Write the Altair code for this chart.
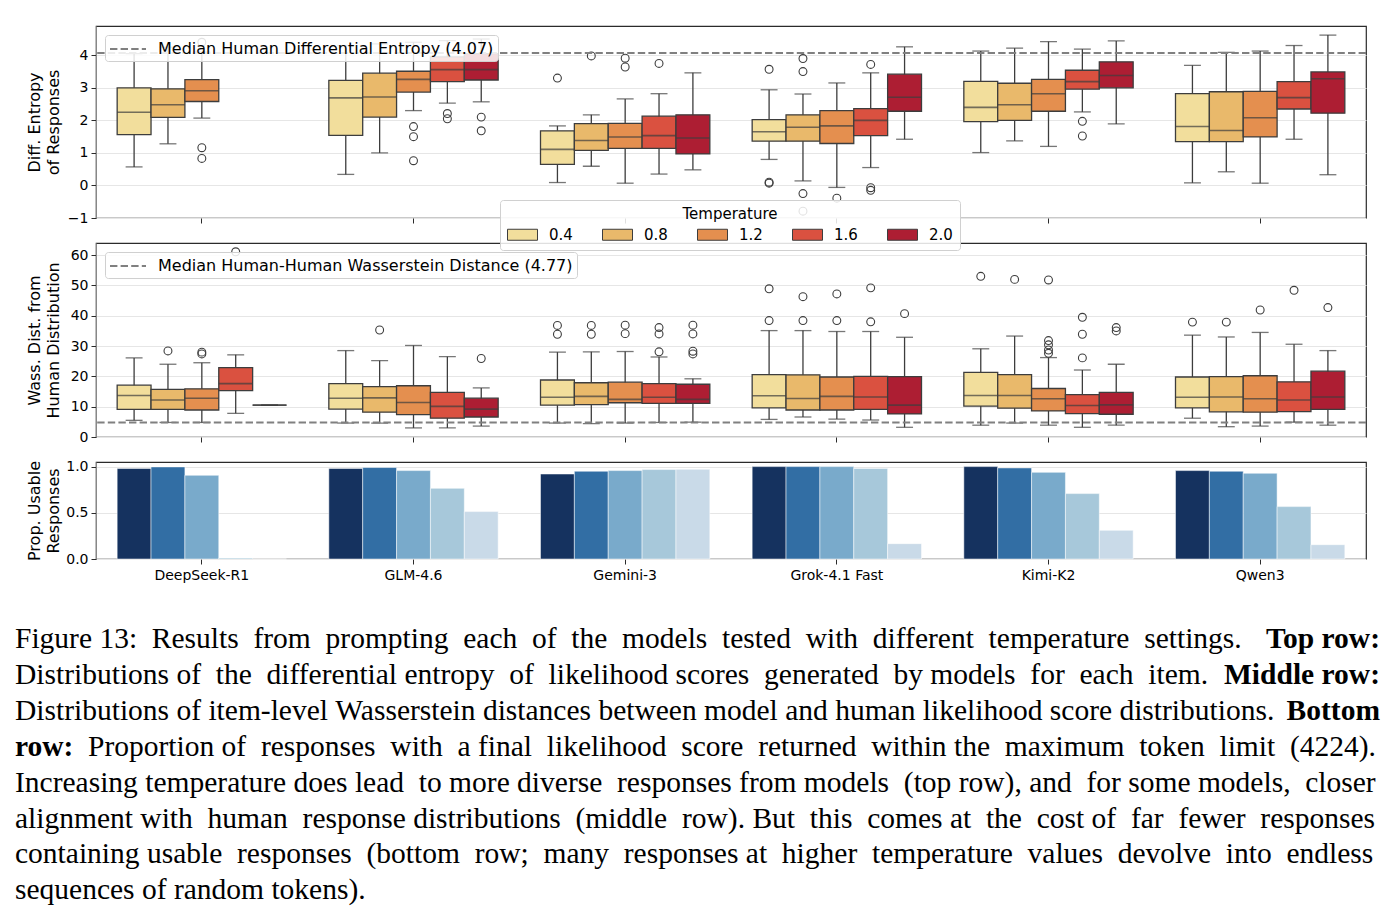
import altair as alt
import pandas as pd

models = ["DeepSeek-R1", "GLM-4.6", "Gemini-3", "Grok-4.1 Fast", "Kimi-K2", "Qwen3"]
temps = ["0.4", "0.8", "1.2", "1.6", "2.0"]

TEMP_COLORS = ["#f2de9c", "#e9b96b", "#e48f4f", "#da5140", "#ad1e33"]
BLUES = ["#15325f", "#326ea4", "#79aacb", "#a7c8da", "#c9dae8"]
EDGE = "#3d3d3d"

# ---------------- Top row: differential entropy (box stats per temperature) -------------
ent_lo = {
    "DeepSeek-R1": [0.57, 1.28, 2.07, None, None],
    "GLM-4.6": [0.34, 1.00, 2.30, 2.53, 2.57],
    "Gemini-3": [0.09, 0.59, 0.07, 0.35, 0.48],
    "Grok-4.1 Fast": [0.80, 0.14, -0.06, 0.55, 1.42],
    "Kimi-K2": [1.01, 1.37, 1.20, 2.26, 1.89],
    "Qwen3": [0.08, 0.42, 0.07, 1.42, 0.33],
}
ent_q1 = {
    "DeepSeek-R1": [1.56, 2.09, 2.58, None, None],
    "GLM-4.6": [1.54, 2.10, 2.87, 3.19, 3.24],
    "Gemini-3": [0.65, 1.08, 1.14, 1.14, 0.97],
    "Grok-4.1 Fast": [1.36, 1.36, 1.29, 1.53, 2.28],
    "Kimi-K2": [1.96, 2.00, 2.28, 2.96, 3.00],
    "Qwen3": [1.35, 1.35, 1.49, 2.35, 2.22],
}
ent_med = {
    "DeepSeek-R1": [2.25, 2.48, 2.91, None, None],
    "GLM-4.6": [2.69, 2.72, 3.26, 3.56, 3.56],
    "Gemini-3": [1.11, 1.38, 1.49, 1.53, 1.46],
    "Grok-4.1 Fast": [1.65, 1.79, 1.83, 2.00, 2.71],
    "Kimi-K2": [2.40, 2.48, 2.82, 3.19, 3.38],
    "Qwen3": [1.81, 1.69, 2.08, 2.70, 3.28],
}
ent_q3 = {
    "DeepSeek-R1": [3.00, 2.97, 3.25, None, None],
    "GLM-4.6": [3.23, 3.45, 3.51, 3.95, 4.05],
    "Gemini-3": [1.68, 1.90, 1.91, 2.13, 2.17],
    "Grok-4.1 Fast": [2.02, 2.17, 2.30, 2.36, 3.42],
    "Kimi-K2": [3.20, 3.14, 3.26, 3.54, 3.80],
    "Qwen3": [2.82, 2.88, 2.89, 3.19, 3.49],
}
ent_hi = {
    "DeepSeek-R1": [4.05, 4.25, 4.10, None, None],
    "GLM-4.6": [4.30, 4.35, 4.40, 4.45, 4.50],
    "Gemini-3": [1.83, 2.17, 2.66, 2.82, 3.46],
    "Grok-4.1 Fast": [2.94, 2.81, 3.15, 3.46, 4.26],
    "Kimi-K2": [4.13, 4.22, 4.42, 4.19, 4.44],
    "Qwen3": [3.69, 4.09, 4.13, 4.30, 4.62],
}
ent_out = {
    "DeepSeek-R1": {"1.2": [4.40, 1.16, 0.83]},
    "GLM-4.6": {"1.2": [1.81, 1.50, 0.76], "1.6": [2.21, 2.05], "2.0": [2.10, 1.68]},
    "Gemini-3": {"0.4": [3.30], "0.8": [3.98], "1.2": [3.91, 3.64], "1.6": [3.75]},
    "Grok-4.1 Fast": {"0.4": [3.57, 0.10, 0.07], "0.8": [3.90, 3.50, -0.25, -0.79],
                      "1.2": [-0.39], "1.6": [3.72, -0.07, -0.15]},
    "Kimi-K2": {"1.6": [1.97, 1.52]},
    "Qwen3": {},
}

# ---------------- Middle row: Wasserstein distance -------------
was_lo = {
    "DeepSeek-R1": [5.5, 4.8, 4.8, 7.8, 10.5],
    "GLM-4.6": [4.6, 4.6, 3.0, 3.0, 3.6],
    "Gemini-3": [4.6, 4.4, 4.6, 4.8, 4.9],
    "Grok-4.1 Fast": [5.8, 6.6, 5.9, 5.6, 3.2],
    "Kimi-K2": [3.9, 4.6, 3.9, 3.2, 3.9],
    "Qwen3": [6.2, 3.4, 3.6, 4.9, 3.9],
}
was_q1 = {
    "DeepSeek-R1": [9.1, 9.1, 8.9, 15.3, 10.5],
    "GLM-4.6": [9.2, 8.2, 7.4, 6.2, 6.6],
    "Gemini-3": [10.5, 10.7, 11.3, 11.1, 11.1],
    "Grok-4.1 Fast": [9.6, 8.9, 8.9, 9.1, 7.6],
    "Kimi-K2": [10.2, 9.5, 8.6, 7.7, 7.5],
    "Qwen3": [9.6, 8.3, 8.2, 8.4, 9.1],
}
was_med = {
    "DeepSeek-R1": [13.7, 12.2, 12.8, 17.6, 10.5],
    "GLM-4.6": [12.8, 12.9, 11.4, 10.1, 9.2],
    "Gemini-3": [13.1, 13.4, 12.4, 13.1, 12.4],
    "Grok-4.1 Fast": [13.6, 12.7, 13.4, 13.2, 10.5],
    "Kimi-K2": [13.7, 13.7, 12.6, 10.4, 10.6],
    "Qwen3": [13.1, 13.2, 12.6, 12.2, 13.2],
}
was_q3 = {
    "DeepSeek-R1": [17.1, 15.7, 15.9, 22.9, 10.5],
    "GLM-4.6": [17.6, 16.6, 16.9, 14.7, 12.8],
    "Gemini-3": [18.8, 17.9, 18.1, 17.6, 17.4],
    "Grok-4.1 Fast": [20.6, 20.5, 19.8, 20.0, 19.9],
    "Kimi-K2": [21.3, 20.6, 16.0, 14.0, 14.7],
    "Qwen3": [19.8, 19.9, 20.2, 18.2, 21.7],
}
was_hi = {
    "DeepSeek-R1": [26.1, 24.0, 24.5, 27.1, 10.5],
    "GLM-4.6": [28.5, 25.2, 30.2, 26.5, 16.2],
    "Gemini-3": [28.0, 28.1, 28.2, 26.4, 19.2],
    "Grok-4.1 Fast": [35.1, 35.1, 34.8, 34.8, 32.9],
    "Kimi-K2": [29.1, 33.3, 26.2, 22.1, 24.0],
    "Qwen3": [33.6, 33.0, 34.5, 30.6, 28.5],
}
was_out = {
    "DeepSeek-R1": {"0.8": [28.4], "1.2": [28.0, 27.4], "1.6": [61.1]},
    "GLM-4.6": {"0.8": [35.3], "2.0": [25.9]},
    "Gemini-3": {"0.4": [36.8, 33.9], "0.8": [36.8, 33.9], "1.2": [36.9, 34.1],
                 "1.6": [36.1, 34.0, 28.1], "2.0": [36.9, 34.0, 28.3, 27.4]},
    "Grok-4.1 Fast": {"0.4": [38.4, 48.9], "0.8": [38.4, 46.3], "1.2": [38.4, 47.2],
                      "1.6": [38.0, 49.2], "2.0": [40.7]},
    "Kimi-K2": {"0.4": [53.0], "0.8": [52.0], "1.2": [51.8, 31.8, 30.4, 28.7, 27.6],
                "1.6": [39.5, 33.9, 26.1], "2.0": [36.1, 35.0]},
    "Qwen3": {"0.4": [37.9], "0.8": [37.9], "1.2": [41.9], "1.6": [48.4], "2.0": [42.7]},
}

# ---------------- Bottom row: proportion of usable responses -------------
prop_usable = {
    "DeepSeek-R1": [0.98, 0.997, 0.906, 0.01, 0.0],
    "GLM-4.6": [0.98, 0.99, 0.957, 0.765, 0.513],
    "Gemini-3": [0.92, 0.95, 0.957, 0.968, 0.971],
    "Grok-4.1 Fast": [1.0, 1.0, 1.0, 0.98, 0.166],
    "Kimi-K2": [1.0, 0.986, 0.938, 0.708, 0.31],
    "Qwen3": [0.957, 0.95, 0.928, 0.567, 0.155],
}

human_entropy = 4.07
human_wass = 4.77

caption_main = [
    "Figure 13: Results from prompting each of the models tested with different temperature settings.",
    "Distributions of the differential entropy of likelihood scores generated by models for each item.",
    "Distributions of item-level Wasserstein distances between model and human likelihood score distributions.",
    "Proportion of responses with a final likelihood score returned within the maximum token limit (4224).",
    "Increasing temperature does lead to more diverse responses from models (top row), and for some models, closer",
    "alignment with human response distributions (middle row). But this comes at the cost of far fewer responses",
    "containing usable responses (bottom row; many responses at higher temperature values devolve into endless",
    "sequences of random tokens).",
]
caption_bold_end = ["Top row:", "Middle row:", "Bottom"]
caption_bold_start = "row:"

W = 1270
FONT = "DejaVu Sans"

xscale = alt.Scale(domain=models, paddingInner=0.2, paddingOuter=0.1)
xo_scale = alt.Scale(domain=temps, paddingInner=0, paddingOuter=0)
BOX_W = W / 6 * 0.8 / 5
LEG_FILL = "rgba(255,255,255,0.85)"
LEG_STROKE = "#d0d0d0"


def stats_frame(lo, q1, med, q3, hi):
    rows = []
    for m in models:
        for i, t in enumerate(temps):
            if q1[m][i] is None:
                continue
            rows.append(dict(model=m, temp=t, lo=lo[m][i], q1=q1[m][i],
                             med=med[m][i], q3=q3[m][i], hi=hi[m][i]))
    return pd.DataFrame(rows)


def outlier_frame(out):
    rows = []
    for m, d in out.items():
        for t, vals in d.items():
            for v in vals:
                rows.append(dict(model=m, temp=t, v=v))
    return pd.DataFrame(rows)


def box_panel(stats, outs, domain, ticks, title, height, hval, hlabel, color_legend):
    xaxis = alt.Axis(labels=False, title=None, grid=False, domain=False, ticks=True, tickSize=5)
    X = alt.X("model:N", sort=models, scale=xscale, axis=xaxis)
    XO = alt.XOffset("temp:N", sort=temps, scale=xo_scale)
    yscale = alt.Scale(domain=domain, nice=False, zero=False)
    yaxis = alt.Axis(values=ticks, title=title, format="d", grid=True, titleX=-54,
                     titleLineHeight=19, tickSize=5, labelPadding=3)

    def Y(f):
        return alt.Y(f"{f}:Q", scale=yscale, axis=yaxis)

    base = alt.Chart(stats)
    whisk = base.mark_rule(color=EDGE, strokeWidth=1.3).encode(
        x=X, xOffset=XO, y=Y("lo"), y2="hi:Q")
    cap_lo = base.mark_tick(color=EDGE, size=BOX_W / 2, thickness=1.3, orient="horizontal").encode(
        x=X, xOffset=XO, y=Y("lo"))
    cap_hi = base.mark_tick(color=EDGE, size=BOX_W / 2, thickness=1.3, orient="horizontal").encode(
        x=X, xOffset=XO, y=Y("hi"))
    if color_legend:
        leg = alt.Legend(
            orient="none", legendX=404, legendY=-43, direction="horizontal", columns=5,
            title="Temperature", titleAnchor="middle", titleOrient="top",
            titleFontSize=15, titleFontWeight="normal", titleFont=FONT, titleColor="black",
            labelFontSize=15, labelFont=FONT, labelColor="black", labelOffset=19,
            symbolType="M-3,-1.1H3V1.1H-3Z", symbolSize=100, symbolOffset=8,
            symbolStrokeColor=EDGE, symbolStrokeWidth=1, columnPadding=27,
            padding=7, titlePadding=5, fillColor=LEG_FILL,
            strokeColor=LEG_STROKE, cornerRadius=3, zindex=2)
    else:
        leg = None
    box = base.mark_bar(stroke=EDGE, strokeWidth=1.3).encode(
        x=X, xOffset=XO, y=Y("q1"), y2="q3:Q",
        color=alt.Color("temp:N", sort=temps, scale=alt.Scale(domain=temps, range=TEMP_COLORS),
                        legend=leg))
    med = base.mark_tick(color=EDGE, size=BOX_W, thickness=1.6, orient="horizontal").encode(
        x=X, xOffset=XO, y=Y("med"))
    pts = alt.Chart(outs).mark_point(shape="circle", filled=False, size=62, color=EDGE,
                                     strokeWidth=1.1, opacity=1).encode(
        x=X, xOffset=XO, y=Y("v"))
    hdf = pd.DataFrame({"label": [hlabel], "v": [hval]})
    hline = alt.Chart(hdf).mark_rule(color="#808080", strokeWidth=2).encode(
        y=Y("v"),
        strokeDash=alt.StrokeDash(
            "label:N", scale=alt.Scale(domain=[hlabel], range=[[7.4, 3.2]]),
            legend=alt.Legend(title=None, orient="top-left", offset=9,
                              symbolType="M-2,0H2", symbolSize=324, symbolOffset=9,
                              symbolStrokeColor="#808080", symbolStrokeWidth=2,
                              labelFontSize=16, labelFont=FONT, labelColor="black",
                              labelLimit=0, labelOffset=20, padding=4,
                              fillColor=LEG_FILL, strokeColor=LEG_STROKE,
                              cornerRadius=3, zindex=2)))
    return alt.layer(whisk, box, med, cap_lo, cap_hi, pts, hline).resolve_scale(
        color="independent", strokeDash="independent").properties(width=W, height=height)


top = box_panel(stats_frame(ent_lo, ent_q1, ent_med, ent_q3, ent_hi), outlier_frame(ent_out),
                [-1, 4.9], [-1, 0, 1, 2, 3, 4], ["Diff. Entropy", "of Responses"], 192,
                human_entropy, "Median Human Differential Entropy (4.07)", False)
mid = box_panel(stats_frame(was_lo, was_q1, was_med, was_q3, was_hi), outlier_frame(was_out),
                [0, 64], [0, 10, 20, 30, 40, 50, 60], ["Wass. Dist. from", "Human Distribution"], 194,
                human_wass, "Median Human-Human Wasserstein Distance (4.77)", True)

prow = [dict(model=m, temp=t, p=prop_usable[m][i]) for m in models for i, t in enumerate(temps)]
pdf = pd.DataFrame(prow)
bot = alt.Chart(pdf).mark_bar(stroke="white", strokeWidth=0.5).encode(
    x=alt.X("model:N", sort=models, scale=xscale,
            axis=alt.Axis(title=None, grid=False, domain=False, ticks=True, tickSize=5,
                          labelAngle=0, labelFontSize=14, labelPadding=4)),
    xOffset=alt.XOffset("temp:N", sort=temps, scale=xo_scale),
    y=alt.Y("p:Q", scale=alt.Scale(domain=[0, 1.05], nice=False),
            axis=alt.Axis(values=[0, 0.5, 1.0], format=".1f", title=["Prop. Usable", "Responses"],
                          grid=True, titleX=-54, titleLineHeight=19, tickSize=5, labelPadding=3)),
    color=alt.Color("temp:N", sort=temps, scale=alt.Scale(domain=temps, range=BLUES), legend=None),
).properties(width=W, height=97)

# ---------------- Caption (justified with non-breaking spaces, Times metrics) -------------
CAP_SIZE = 29.5
_reg = dict(zip("ABCDEFGHIJKLMNOPQRSTUVWXYZ",
                [722, 667, 667, 722, 611, 556, 722, 722, 333, 389, 722, 611, 889, 722, 722, 556,
                 722, 667, 556, 611, 722, 722, 944, 722, 722, 611]))
_reg.update(zip("abcdefghijklmnopqrstuvwxyz",
                [444, 500, 444, 500, 444, 333, 500, 500, 278, 278, 500, 278, 778, 500, 500, 500,
                 500, 333, 389, 278, 500, 500, 722, 500, 500, 444]))
_reg.update({c: 500 for c in "0123456789"})
_reg.update({" ": 250, ".": 250, ",": 250, ":": 278, ";": 278, "(": 333, ")": 333, "-": 333})
_bold = {"T": 667, "o": 500, "p": 556, "r": 444, "w": 722, ":": 333, "M": 944, "i": 278,
         "d": 556, "l": 278, "e": 444, "B": 667, "t": 333, "m": 833, " ": 250}


def text_w(s, table):
    return sum(table.get(c, 500) for c in s) / 1000 * CAP_SIZE


def justify(s, target):
    words = s.split()
    natural = text_w(" ".join(words), _reg)
    sp = 250 / 1000 * CAP_SIZE
    k = max(0, int((target - natural) // sp))
    n = len(words) - 1
    out = words[0]
    for i in range(n):
        e = (i + 1) * k // n - i * k // n
        out += "\u00a0" * (1 + e) + words[i + 1]
    return out


FULL = W + 14 + 81
SP = 250 / 1000 * CAP_SIZE
cap_text = []
for i, s in enumerate(caption_main):
    if i < 3:
        cap_text.append(justify(s, FULL - text_w(caption_bold_end[i], _bold) - 2 * SP))
    elif i == 3:
        cap_text.append(justify(s, FULL - 73))
    elif i < 7:
        cap_text.append(justify(s, FULL))
    else:
        cap_text.append(s)

CAP_H = 325
cap_df = pd.DataFrame({"line": list(range(8)), "text": cap_text})
ycap = alt.Y("line:Q", axis=None, scale=alt.Scale(domain=[-1.53, 7.52], reverse=True, nice=False, zero=False))
cap_font = dict(font="Liberation Serif", fontSize=CAP_SIZE, baseline="middle", color="black")
cap_main = alt.Chart(cap_df).transform_filter("datum.line != 3").mark_text(
    align="left", **cap_font).encode(x=alt.value(-81), y=ycap, text="text:N")
cap_main3 = alt.Chart(cap_df).transform_filter("datum.line == 3").mark_text(
    align="left", **cap_font).encode(x=alt.value(-8), y=ycap, text="text:N")
bold_df = pd.DataFrame({"line": [0, 1, 2], "text": caption_bold_end})
cap_bold = alt.Chart(bold_df).mark_text(align="right", fontWeight="bold", **cap_font).encode(
    x=alt.value(W + 14), y=ycap, text="text:N")
bold2_df = pd.DataFrame({"line": [3], "text": [caption_bold_start]})
cap_bold2 = alt.Chart(bold2_df).mark_text(align="left", fontWeight="bold", **cap_font).encode(
    x=alt.value(-81), y=ycap, text="text:N")
caption = alt.layer(cap_main, cap_main3, cap_bold, cap_bold2).properties(
    width=W, height=CAP_H, view=alt.ViewBackground(strokeWidth=0, stroke=None))

chart = alt.vconcat(top, mid, bot, caption, spacing=25, bounds="flush").resolve_scale(
    color="independent", strokeDash="independent", y="independent").resolve_legend(
    color="independent", strokeDash="independent").properties(
    padding={"left": 15, "top": 25, "right": 5, "bottom": 5}
).configure_view(stroke="#2b2b2b", strokeWidth=1.2).configure_axis(
    labelFont=FONT, titleFont=FONT, labelFontSize=14, titleFontSize=16,
    titleFontWeight="normal", labelColor="black", titleColor="black",
    tickColor="#2b2b2b", gridColor="#e6e6e6", gridWidth=1
).configure_legend(labelFont=FONT, titleFont=FONT)

chart.save("out.html", embed_options={"renderer": "svg", "actions": False})
